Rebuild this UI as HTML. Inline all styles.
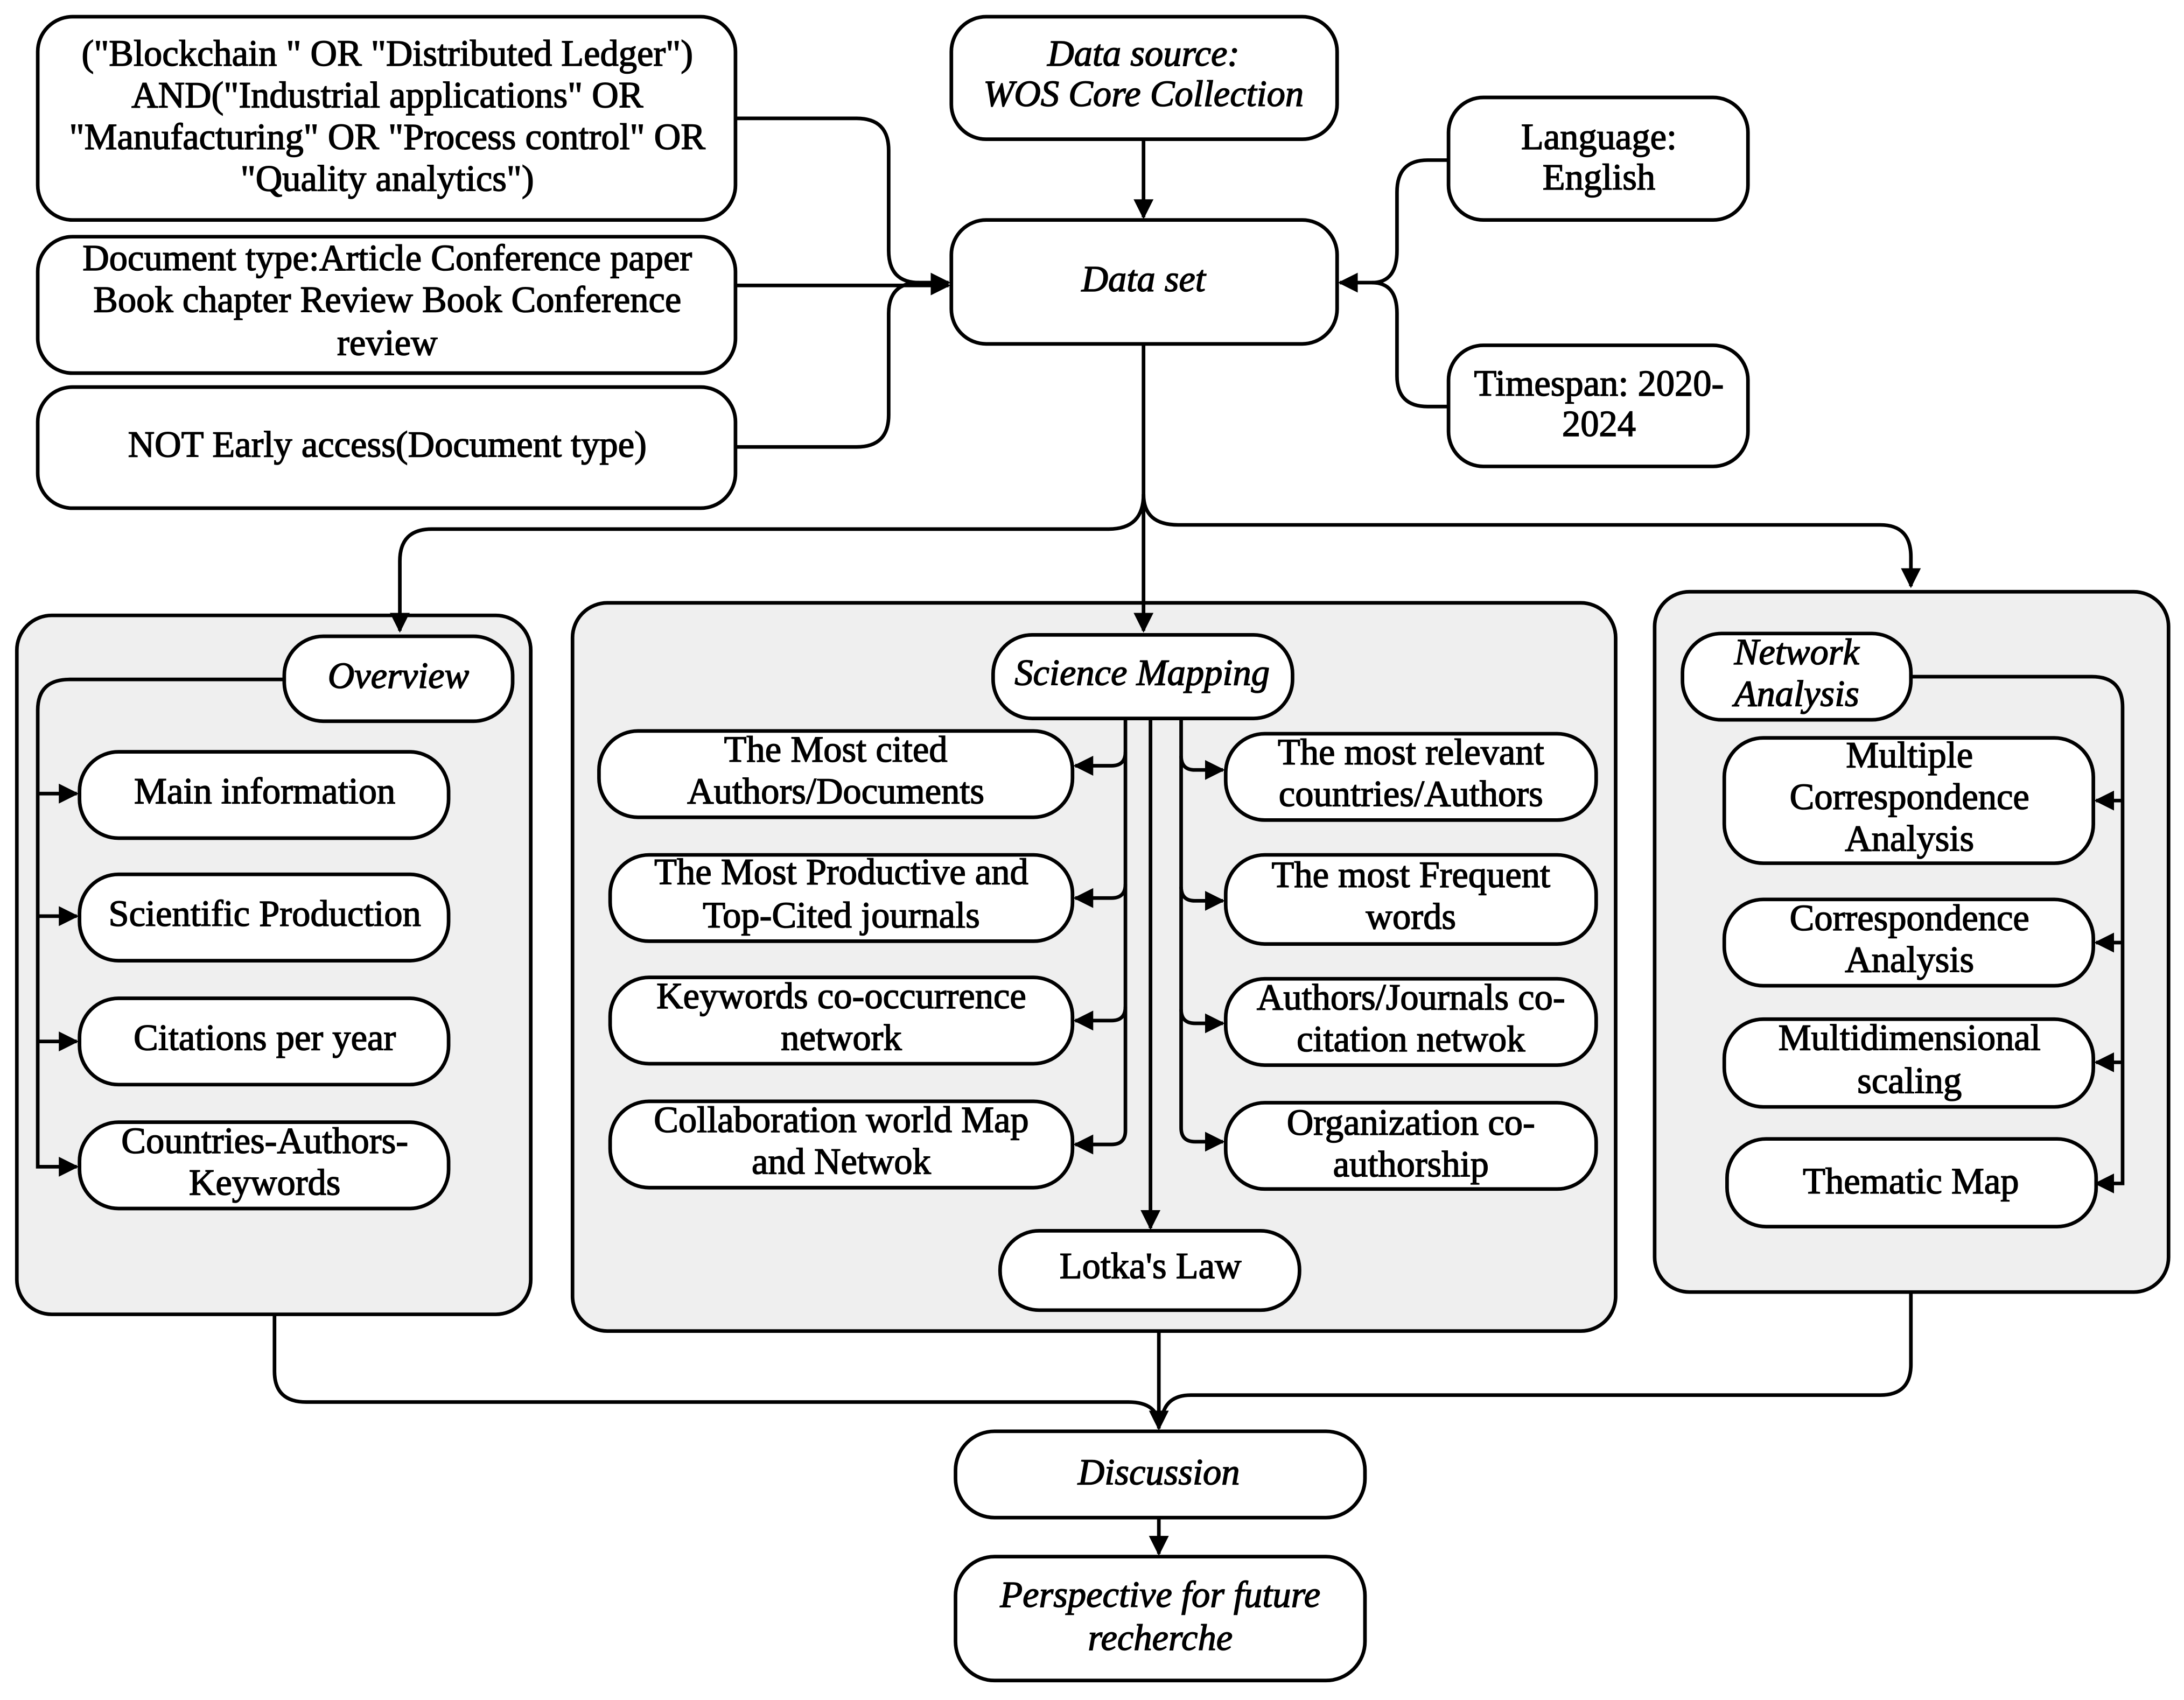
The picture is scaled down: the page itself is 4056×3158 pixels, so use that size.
<!DOCTYPE html>
<html><head><meta charset="utf-8"><style>
html,body{margin:0;padding:0;background:#fff}
svg{display:block}
text{font-family:"Liberation Serif",serif;font-size:26.5px;fill:#000;text-anchor:middle;dominant-baseline:middle;stroke:#000;stroke-width:0.6}
.i{font-style:italic}
.b{fill:#fff;stroke:#000;stroke-width:2.6}
.p{fill:#efefef;stroke:#000;stroke-width:2.6}
.l{fill:none;stroke:#000;stroke-width:2.6}
</style></head><body>
<svg width="4056" height="3158" viewBox="0 0 1568 1221" xmlns="http://www.w3.org/2000/svg">
<defs><marker id="a" viewBox="0 0 10 10" refX="9" refY="5" markerWidth="5.5" markerHeight="5.5" orient="auto" markerUnits="strokeWidth"><path d="M0,0L10,5L0,10z" fill="#000"/></marker></defs>
<rect width="1568" height="1221" fill="#fff"/>
<rect class="p" x="12" y="442" width="369" height="502" rx="25"/>
<rect class="p" x="411" y="433" width="749" height="523" rx="25"/>
<rect class="p" x="1188" y="425" width="369" height="503" rx="25"/>

<path class="l" d="M528,85H615Q638,85 638,108V180Q638,203 660,203H681" marker-end="url(#a)"/>
<path class="l" d="M528,205H681" marker-end="url(#a)"/>
<path class="l" d="M528,321H615Q638,321 638,298V225Q638,203 660,203"/>
<path class="l" d="M1040,115H1025Q1003,115 1003,138V180Q1003,203 985,203H962" marker-end="url(#a)"/>
<path class="l" d="M1040,292H1025Q1003,292 1003,270V225Q1003,203 985,203"/>
<path class="l" d="M821,100V156" marker-end="url(#a)"/>
<path class="l" d="M821,247V453" marker-end="url(#a)"/>
<path class="l" d="M821,355Q821,380 796,380H310Q287,380 287,403V453" marker-end="url(#a)"/>
<path class="l" d="M821,355Q821,377 846,377H1350Q1372,377 1372,400V421" marker-end="url(#a)"/>

<rect class="b" x="27" y="12" width="501" height="146" rx="25"/>
<text x="278" y="41">("Blockchain " OR "Distributed Ledger")</text>
<text x="278" y="71">AND("Industrial applications" OR</text>
<text x="278" y="101">"Manufacturing" OR "Process control" OR</text>
<text x="278" y="131">"Quality analytics")</text>
<rect class="b" x="27" y="170" width="501" height="98" rx="25"/>
<text x="278" y="188">Document type:Article Conference paper</text>
<text x="278" y="218">Book chapter Review Book Conference</text>
<text x="278" y="249">review</text>
<rect class="b" x="27" y="278" width="501" height="87" rx="25"/>
<text x="278" y="322">NOT Early access(Document type)</text>
<rect class="b" x="683" y="12" width="277" height="88" rx="25"/>
<text class="i" x="821" y="41">Data source:</text>
<text class="i" x="821" y="70">WOS Core Collection</text>
<rect class="b" x="683" y="158" width="277" height="89" rx="25"/>
<text class="i" x="821" y="203">Data set</text>
<rect class="b" x="1040" y="70" width="215" height="88" rx="25"/>
<text x="1148" y="101">Language:</text>
<text x="1148" y="130">English</text>
<rect class="b" x="1040" y="248" width="215" height="87" rx="25"/>
<text x="1148" y="278">Timespan: 2020-</text>
<text x="1148" y="307">2024</text>

<path class="l" d="M204,488H50Q27,488 27,510V838H55" marker-end="url(#a)"/>
<path class="l" d="M27,570H55" marker-end="url(#a)"/>
<path class="l" d="M27,658H55" marker-end="url(#a)"/>
<path class="l" d="M27,748H55" marker-end="url(#a)"/>
<rect class="b" x="204" y="457" width="164" height="61" rx="28"/>
<text class="i" x="286" y="488">Overview</text>
<rect class="b" x="57" y="540" width="265" height="62" rx="28"/>
<text x="190" y="571">Main information</text>
<rect class="b" x="57" y="628" width="265" height="62" rx="28"/>
<text x="190" y="659">Scientific Production</text>
<rect class="b" x="57" y="717" width="265" height="62" rx="28"/>
<text x="190" y="748">Citations per year</text>
<rect class="b" x="57" y="806" width="265" height="62" rx="28"/>
<text x="190" y="822">Countries-Authors-</text>
<text x="190" y="852">Keywords</text>

<path class="l" d="M808,516V812Q808,822 798,822H772" marker-end="url(#a)"/>
<path class="l" d="M808,540Q808,550 798,550H772" marker-end="url(#a)"/>
<path class="l" d="M808,635Q808,645 798,645H772" marker-end="url(#a)"/>
<path class="l" d="M808,723Q808,733 798,733H772" marker-end="url(#a)"/>
<path class="l" d="M848,516V810Q848,820 858,820H878" marker-end="url(#a)"/>
<path class="l" d="M848,543Q848,553 858,553H878" marker-end="url(#a)"/>
<path class="l" d="M848,637Q848,647 858,647H878" marker-end="url(#a)"/>
<path class="l" d="M848,725Q848,735 858,735H878" marker-end="url(#a)"/>
<path class="l" d="M826,516V882" marker-end="url(#a)"/>
<rect class="b" x="713" y="456" width="215" height="60" rx="28"/>
<text class="i" x="820" y="486">Science Mapping</text>
<rect class="b" x="430" y="525" width="340" height="62" rx="28"/>
<text x="600" y="541">The Most cited</text>
<text x="600" y="571">Authors/Documents</text>
<rect class="b" x="438" y="614" width="332" height="62" rx="28"/>
<text x="604" y="629">The Most Productive and</text>
<text x="604" y="660">Top-Cited journals</text>
<rect class="b" x="438" y="702" width="332" height="62" rx="28"/>
<text x="604" y="718">Keywords co-occurrence</text>
<text x="604" y="748">network</text>
<rect class="b" x="438" y="791" width="332" height="62" rx="28"/>
<text x="604" y="807">Collaboration world Map</text>
<text x="604" y="837">and Netwok</text>
<rect class="b" x="880" y="527" width="266" height="62" rx="28"/>
<text x="1013" y="543">The most relevant</text>
<text x="1013" y="573">countries/Authors</text>
<rect class="b" x="880" y="614" width="266" height="64" rx="28"/>
<text x="1013" y="631">The most Frequent</text>
<text x="1013" y="661">words</text>
<rect class="b" x="880" y="703" width="266" height="62" rx="28"/>
<text x="1013" y="719">Authors/Journals co-</text>
<text x="1013" y="749">citation netwok</text>
<rect class="b" x="880" y="792" width="266" height="62" rx="28"/>
<text x="1013" y="809">Organization co-</text>
<text x="1013" y="839">authorship</text>
<rect class="b" x="718" y="884" width="215" height="57" rx="28"/>
<text x="826" y="912">Lotka's Law</text>

<path class="l" d="M1372,486H1502Q1524,486 1524,508V850H1505" marker-end="url(#a)"/>
<path class="l" d="M1524,575H1505" marker-end="url(#a)"/>
<path class="l" d="M1524,677H1505" marker-end="url(#a)"/>
<path class="l" d="M1524,763H1505" marker-end="url(#a)"/>
<rect class="b" x="1208" y="455" width="164" height="62" rx="28"/>
<text class="i" x="1290" y="471">Network</text>
<text class="i" x="1290" y="501">Analysis</text>
<rect class="b" x="1238" y="530" width="265" height="90" rx="28"/>
<text x="1371" y="545">Multiple</text>
<text x="1371" y="575">Correspondence</text>
<text x="1371" y="605">Analysis</text>
<rect class="b" x="1238" y="646" width="265" height="62" rx="28"/>
<text x="1371" y="662">Correspondence</text>
<text x="1371" y="692">Analysis</text>
<rect class="b" x="1238" y="732" width="265" height="63" rx="28"/>
<text x="1371" y="748">Multidimensional</text>
<text x="1371" y="779">scaling</text>
<rect class="b" x="1240" y="818" width="265" height="63" rx="28"/>
<text x="1372" y="851">Thematic Map</text>

<path class="l" d="M197,944V985Q197,1007 220,1007H810Q832,1007 832,1025"/>
<path class="l" d="M1372,928V980Q1372,1002 1350,1002H855Q836,1002 834,1020"/>
<path class="l" d="M832,956V1026" marker-end="url(#a)"/>
<path class="l" d="M832,1090V1116" marker-end="url(#a)"/>
<rect class="b" x="686" y="1028" width="294" height="62" rx="28"/>
<text class="i" x="832" y="1060">Discussion</text>
<rect class="b" x="686" y="1118" width="294" height="89" rx="28"/>
<text class="i" x="833" y="1148">Perspective for future</text>
<text class="i" x="833" y="1179">recherche</text>
</svg>
</body></html>
